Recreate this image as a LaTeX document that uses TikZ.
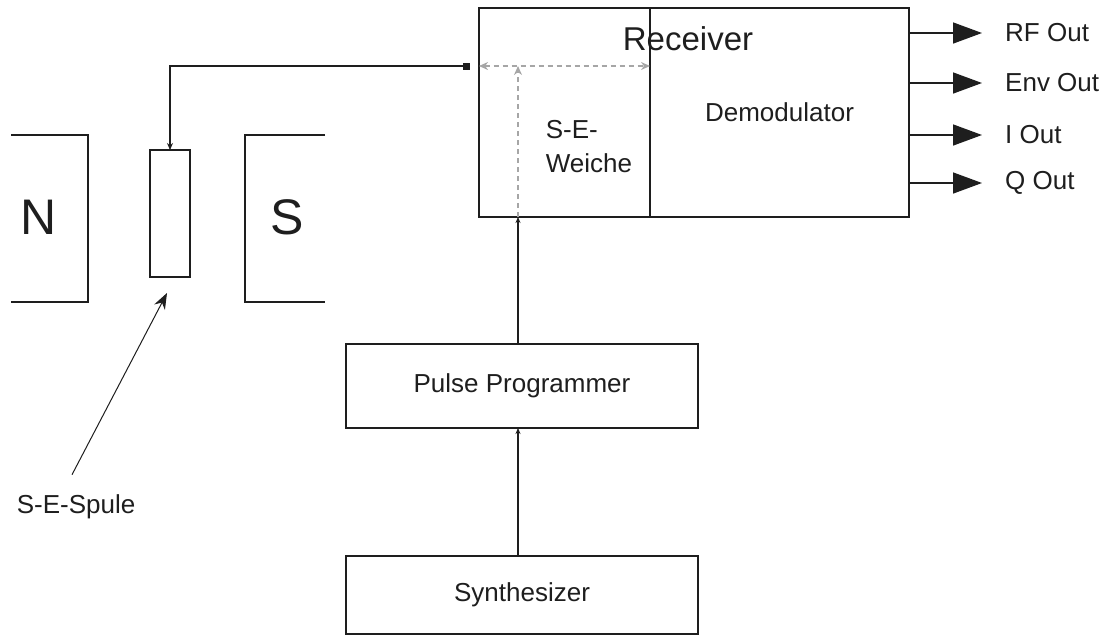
\documentclass[tikz,border=0pt]{standalone}
\usepackage{fontspec}
\setmainfont{Liberation Sans}
\usepackage{tikz}
\usetikzlibrary{arrows.meta,positioning,calc}
\definecolor{ink}{HTML}{1E1E1E}
\definecolor{dashgray}{HTML}{A6A6A6}
\tikzset{
    every picture/.style={line join=miter},
    block/.style={draw=ink,line width=1.5pt,minimum width=352pt,minimum height=84pt,
      inner sep=0pt,outer sep=0pt,font=\fontsize{26}{30}\selectfont,text=ink},
    bodytext/.style={font=\fontsize{26}{34}\selectfont,text=ink,inner sep=2pt},
    poletext/.style={font=\fontsize{50}{54}\selectfont,text=ink},
    wire/.style={draw=ink,line width=1.5pt},
    internal/.style={draw=dashgray,line width=1.4pt,dash pattern=on 5pt off 4pt},
    outarrow/.style={-{Triangle[length=29pt,width=21pt]},draw=ink,line width=1.5pt},
    pointer/.style={-{Stealth[length=16pt,width=12pt]},draw=ink,line width=1pt}
}

\begin{document}
\begin{tikzpicture}[x=1pt,y=-1pt]
  \useasboundingbox (0,0) rectangle (1107,638);
  % magnet and coil
  \draw[wire] (11,135) -| (88,302) -- (11,302);
  \draw[wire] (325,135) -| (245,302) -- (325,302);
  \node[poletext] (north) at (39,217) {N};
  \node[poletext] (south) at (287,217) {S};
  \node[block,minimum width=40pt,minimum height=127pt] (coil) at (170,213.5) {};
  \node[bodytext] (spule) at (76,507) {S-E-Spule};
  \draw[pointer] ([shift={(-4,-18)}]spule.north) -- ([shift={(-3,16)}]coil.south);
  % receiver
  \node[block,minimum width=171pt,minimum height=209pt] (weiche) at (564.5,112.5) {};
  \node[block,minimum width=259pt,minimum height=209pt] (demod) at (779.5,112.5) {Demodulator};
  \node[bodytext,font=\fontsize{33}{36}\selectfont] (rxlabel) at (688,39) {Receiver};
  \node[bodytext,align=left] (weichelabel) at (589,147) {S-E-\\Weiche};
  % pulse chain
  \node[block] (pp) at (522,386) {Pulse Programmer};
  \node[block,minimum height=78pt] (synth) at (522,595) {Synthesizer};
  \coordinate (tap) at (518,0);
  \coordinate (port) at (470,66);
  \draw[wire,-{Stealth[length=6pt,width=5pt]}] (synth.north -| tap) -- (pp.south -| tap);
  \draw[wire,-{Stealth[length=6pt,width=5pt]}] (pp.north -| tap) -- (weiche.south -| tap);
  \draw[wire,{Square[length=7pt,width=7pt]}-{Stealth[length=7pt,width=6pt]}] (port) -| (coil.north);
  \draw[internal,{Stealth[length=9pt,width=8pt]}-{Stealth[length=9pt,width=8pt]}]
    (weiche.west |- port) -- (weiche.east |- port);
  \draw[internal,-{Stealth[length=9pt,width=8pt]}] (weiche.south -| tap) -- (tap |- port);
  % outputs
  \foreach \name/\txt/\ypos in {rf/RF Out/33,env/Env Out/83,iout/I Out/135,qout/Q Out/183}{
    \node[bodytext,anchor=west] (\name) at (1003,\ypos) {\txt};
    \draw[outarrow,shorten >=21pt] (demod.east |- \name) -- (\name.west);
  }
\end{tikzpicture}
\end{document}
